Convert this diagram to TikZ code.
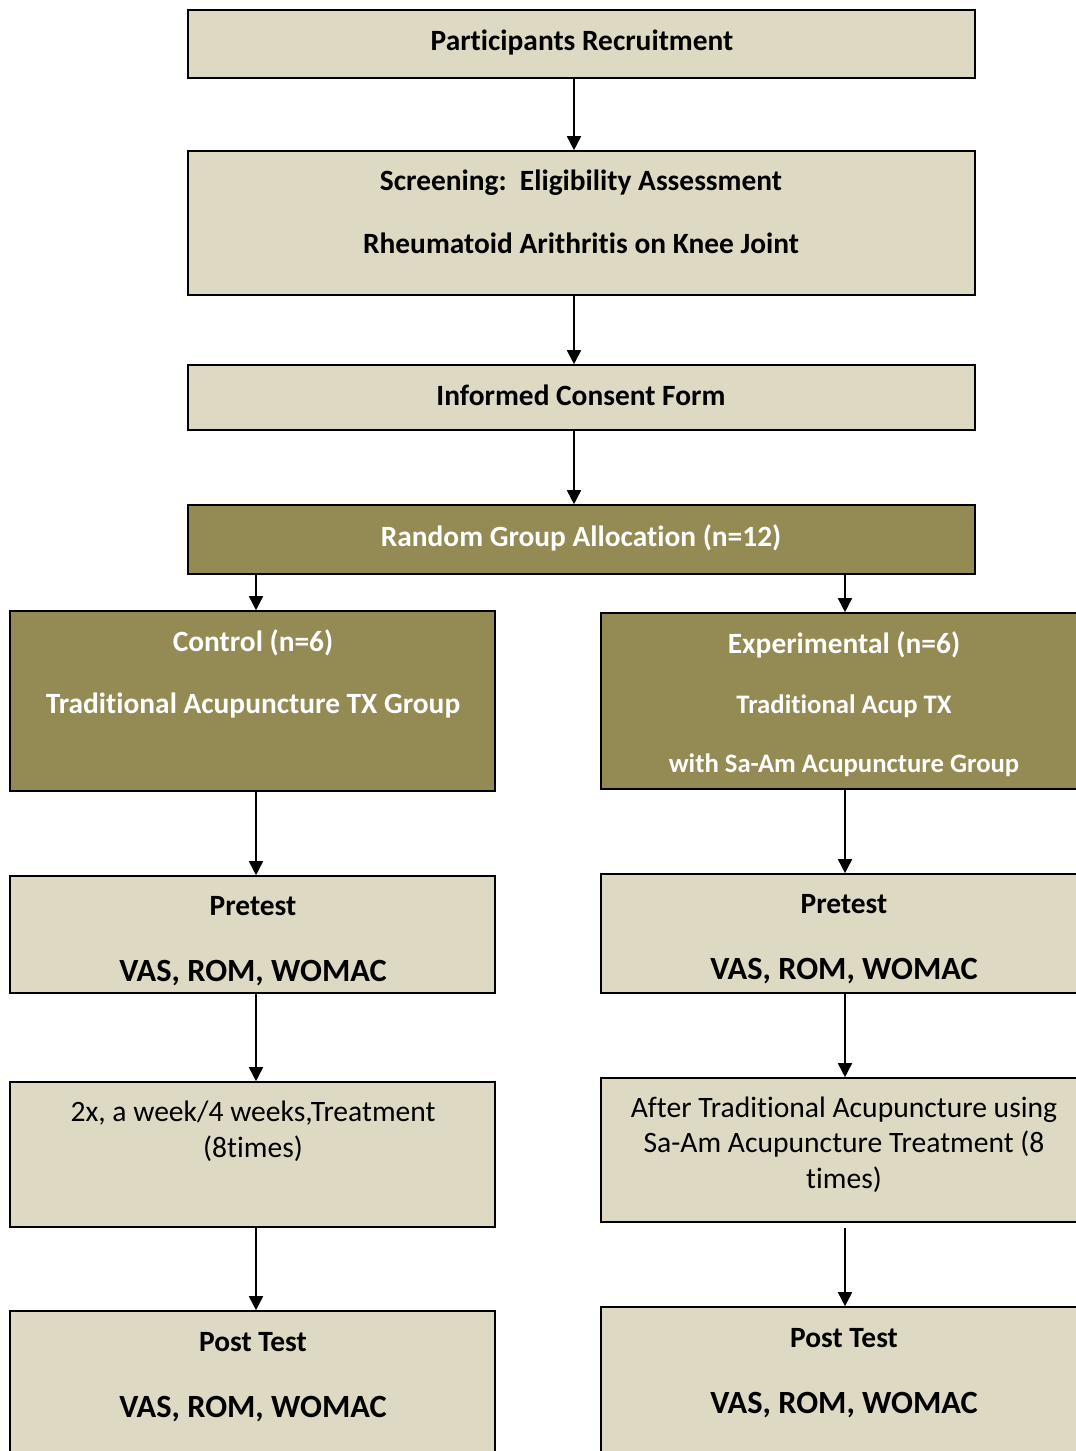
\documentclass[tikz,border=0pt]{standalone}
\usepackage{fontspec}
\setmainfont{Carlito}[Ligatures=NoCommon]
\usetikzlibrary{arrows.meta}
\definecolor{boxtan}{HTML}{DDD9C3}
\definecolor{boxolive}{HTML}{948A54}
\tikzset{
  tanbox/.style={draw, line width=1.6pt, fill=boxtan, inner sep=0pt},
  olivebox/.style={tanbox, fill=boxolive},
  head/.style={anchor=base, font=\bfseries\fontsize{29.4}{35}\selectfont},
  big/.style={anchor=base, font=\bfseries\fontsize{32.4}{38}\selectfont},
  small/.style={anchor=base, font=\bfseries\fontsize{26.7}{32}\selectfont},
  plain/.style={anchor=base, font=\fontsize{29.6}{35}\selectfont},
  flow/.style={line width=1.6pt, -{Triangle[length=14pt,width=14pt]}}
}
\begin{document}
\begin{tikzpicture}[x=1pt,y=-1pt,line join=miter]
  \useasboundingbox (0,0) rectangle (1076,1451);
  \clip (0,0) rectangle (1076,1451);
  \coordinate (mid) at (574,0);
  \coordinate (colL) at (256,0);
  \coordinate (colR) at (845,0);

  % top column
  \node[tanbox, minimum width=787pt, minimum height=68pt] (recruit) at (581.5,44) {};
  \node[head] (trecruit) at (582,50) {Participants Recruitment};
  \node[tanbox, minimum width=787pt, minimum height=144pt] (screen) at (581.5,223) {};
  \node[head] (tscreen) at (581,190) {Screening:\ \ Eligibility Assessment};
  \node[head] (tknee) at (581,253) {Rheumatoid Arithritis on Knee Joint};
  \node[tanbox, minimum width=787pt, minimum height=65pt] (consent) at (581.5,397.5) {};
  \node[head] (tconsent) at (581,405) {Informed Consent Form};
  \node[olivebox, minimum width=787pt, minimum height=69pt] (random) at (581.5,539.5) {};
  \node[head, white] (trandom) at (581,546) {Random Group Allocation (n=12)};

  % groups
  \node[olivebox, minimum width=485pt, minimum height=180pt] (control) at (252.5,701) {};
  \node[head, white] (tcontrol) at (253,651) {Control (n=6)};
  \node[head, white] (tcontrolg) at (253,713) {Traditional Acupuncture TX Group};
  \node[olivebox, minimum width=489pt, minimum height=176pt] (exper) at (845.5,701) {};
  \node[head, white] (texper) at (844,653) {Experimental (n=6)};
  \node[small, white] (tacup) at (844,713) {Traditional Acup TX};
  \node[small, white] (tsaam) at (844,772) {with Sa-Am Acupuncture Group};

  % pretest
  \node[tanbox, minimum width=485pt, minimum height=117pt] (preL) at (252.5,934.5) {};
  \node[head] (tpreL) at (253,915) {Pretest};
  \node[big] (tvasL) at (253,981) {VAS, ROM, WOMAC};
  \node[tanbox, minimum width=489pt, minimum height=119pt] (preR) at (845.5,933.5) {};
  \node[head] (tpreR) at (844,913) {Pretest};
  \node[big] (tvasR) at (844,979) {VAS, ROM, WOMAC};

  % treatment
  \node[tanbox, minimum width=485pt, minimum height=145pt] (treatL) at (252.5,1154.5) {};
  \node[plain] (ttreatL) at (253,1121) {2x, a week/4 weeks,Treatment};
  \node[plain] (ttimesL) at (253,1157) {(8times)};
  \node[tanbox, minimum width=489pt, minimum height=144pt] (treatR) at (845.5,1150) {};
  \node[plain] (ttreatR) at (844,1117) {After Traditional Acupuncture using};
  \node[plain] (tsaamR) at (844,1152) {Sa-Am Acupuncture Treatment (8};
  \node[plain] (ttimesR) at (844,1188) {times)};

  % post test
  \node[tanbox, minimum width=485pt, minimum height=159pt] (postL) at (252.5,1390.5) {};
  \node[head] (tpostL) at (253,1351) {Post Test};
  \node[big] (tvasPL) at (253,1417) {VAS, ROM, WOMAC};
  \node[tanbox, minimum width=489pt, minimum height=163pt] (postR) at (845.5,1388.5) {};
  \node[head] (tpostR) at (844,1347) {Post Test};
  \node[big] (tvasPR) at (844,1413) {VAS, ROM, WOMAC};

  % arrows
  \draw[flow] (recruit.south -| mid) -- (screen.north -| mid);
  \draw[flow] (screen.south -| mid) -- (consent.north -| mid);
  \draw[flow] (consent.south -| mid) -- (random.north -| mid);
  \draw[flow] (random.south -| colL) -- (control.north -| colL);
  \draw[flow] (random.south -| colR) -- (exper.north -| colR);
  \draw[flow] (control.south -| colL) -- (preL.north -| colL);
  \draw[flow] (exper.south -| colR) -- (preR.north -| colR);
  \draw[flow] (preL.south -| colL) -- (treatL.north -| colL);
  \draw[flow] (preR.south -| colR) -- (treatR.north -| colR);
  \draw[flow] (treatL.south -| colL) -- (postL.north -| colL);
  \draw[flow] (treatR.south -| colR) ++(0,5) -- (postR.north -| colR);
\end{tikzpicture}
\end{document}
